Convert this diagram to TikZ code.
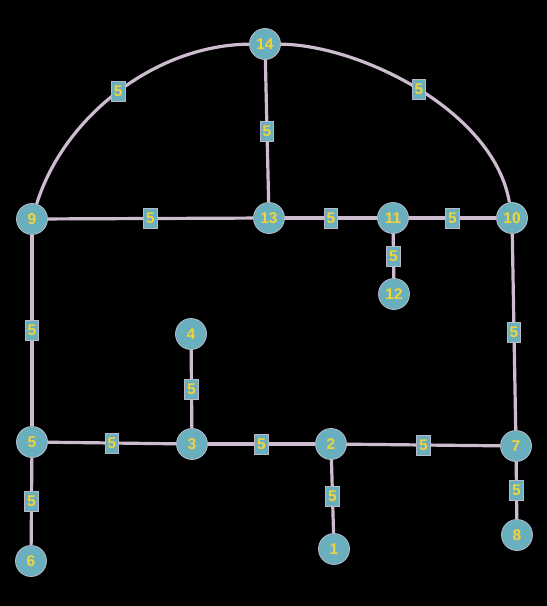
\documentclass[tikz,border=0pt]{standalone}
\usepackage{fontspec}
\setmainfont{Liberation Sans}
\definecolor{nodefill}{HTML}{6AAFBD}
\definecolor{nodeline}{HTML}{B8B8C8}
\definecolor{edgecol}{HTML}{CDBCCF}
\definecolor{txt}{HTML}{F2D43A}
\begin{document}
\begin{tikzpicture}[x=1pt,y=-1pt,
  vert/.style={circle,fill=nodefill,draw=nodeline,line width=0.8pt,minimum size=31pt,inner sep=0pt,text=txt,font=\bfseries\fontsize{15.5}{15.5}\selectfont},
  wlab/.style={rectangle,fill=nodefill,draw=nodeline,line width=0.8pt,minimum width=13.5pt,minimum height=20pt,inner sep=0pt,text=txt,font=\bfseries\fontsize{15.5}{15.5}\selectfont},
  edge/.style={draw=edgecol,line width=3.2pt}]
\fill[black] (0,0) rectangle (547,606);
\useasboundingbox (0,0) rectangle (547,606);
\node[vert] (n14) at (265,44) {14};
\node[vert] (n9) at (32,219) {9};
\node[vert] (n13) at (269,218) {13};
\node[vert] (n11) at (393,218) {11};
\node[vert] (n10) at (512,218) {10};
\node[vert] (n12) at (394,294) {12};
\node[vert] (n4) at (191,334) {4};
\node[vert] (n5) at (32,442) {5};
\node[vert] (n3) at (192,444) {3};
\node[vert] (n2) at (331,444) {2};
\node[vert] (n7) at (516,446) {7};
\node[vert] (n6) at (31,561) {6};
\node[vert] (n1) at (334,549) {1};
\node[vert] (n8) at (517,535) {8};
\path[edge] (n9) .. controls (64,116) and (156,45) .. node[wlab,pos=0.5]{5} (n14);
\path[edge] (n10) .. controls (494,111) and (360,45) .. node[wlab,pos=0.5]{5} (n14);
\path[edge] (n14) -- node[wlab]{5} (n13);
\path[edge] (n9) -- node[wlab]{5} (n13);
\path[edge] (n13) -- node[wlab]{5} (n11);
\path[edge] (n11) -- node[wlab]{5} (n10);
\path[edge] (n11) -- node[wlab]{5} (n12);
\path[edge] (n9) -- node[wlab]{5} (n5);
\path[edge] (n10) -- node[wlab]{5} (n7);
\path[edge] (n4) -- node[wlab]{5} (n3);
\path[edge] (n5) -- node[wlab]{5} (n3);
\path[edge] (n3) -- node[wlab]{5} (n2);
\path[edge] (n2) -- node[wlab]{5} (n7);
\path[edge] (n5) -- node[wlab]{5} (n6);
\path[edge] (n2) -- node[wlab]{5} (n1);
\path[edge] (n7) -- node[wlab]{5} (n8);
\end{tikzpicture}
\end{document}
